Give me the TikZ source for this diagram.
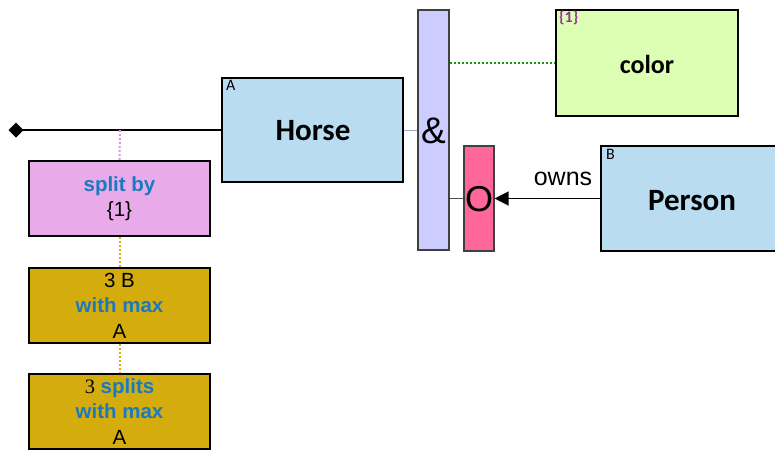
\documentclass[tikz,border=0pt]{standalone}
\usepackage{fontspec}
\setmainfont{Liberation Sans}
\newfontfamily\calib{Carlito}
\newfontfamily\serifr{Liberation Serif}
\usetikzlibrary{arrows.meta,shapes.geometric}
\definecolor{horseblue}{HTML}{B9DCF0}
\definecolor{barlav}{HTML}{CCCCFF}
\definecolor{colgreen}{HTML}{DDFFB3}
\definecolor{opink}{HTML}{FF6699}
\definecolor{splitpink}{HTML}{E8AAE8}
\definecolor{dotpink}{HTML}{E090E0}
\definecolor{gold}{HTML}{D4AC0D}
\definecolor{txtblue}{HTML}{1A7ABF}
\definecolor{lblpurple}{HTML}{993399}
\definecolor{dotgreen}{HTML}{119911}
\tikzset{
  entbox/.style={draw=black,line width=1.3pt,inner sep=0pt},
  barbox/.style={draw=black!75,line width=1.1pt,inner sep=0pt},
  bigtxt/.style={font=\calib\bfseries\fontsize{31}{34}\selectfont},
  smalltag/.style={anchor=north west,inner sep=0pt,font=\calib\fontsize{16}{17}\selectfont},
  stepbox/.style={draw=black,line width=1.3pt,inner sep=0pt,minimum width=181pt,minimum height=75pt,align=center,font=\fontsize{20.5}{25.5}\selectfont},
  dots/.style={line width=2pt,dash pattern=on 2pt off 2pt},
}
\begin{document}
\begin{tikzpicture}[x=1pt,y=-1pt]
\useasboundingbox (0,0) rectangle (775,450);
% boxes
\node[entbox,fill=horseblue,minimum width=181pt,minimum height=104pt] (horse) at (312.5,130) {};
\node[bigtxt] at (313,131) {Horse};
\node[smalltag] at (226,80) {A};
\node[barbox,fill=barlav,minimum width=31pt,minimum height=240pt] (amp) at (433.5,130) {};
\node[font=\fontsize{37}{37}\selectfont] at (433.5,131) {\&};
\node[entbox,fill=colgreen,minimum width=182pt,minimum height=106pt] (color) at (647,63) {};
\node[font=\calib\bfseries\fontsize{26}{28}\selectfont] at (647,64) {color};
\node[smalltag,font=\calib\bfseries\fontsize{16}{17}\selectfont,text=lblpurple] at (559,11) {\{1\}};
\node[barbox,fill=opink,minimum width=30pt,minimum height=105pt] (obar) at (479,198.5) {};
\node[font=\fontsize{36}{36}\selectfont] at (479,199.5) {O};
\node[entbox,fill=horseblue,minimum width=183pt,minimum height=105pt] (person) at (692.5,198.5) {};
\node[bigtxt] at (692,201) {Person};
\node[smalltag] at (606,149) {B};
% connectors
\coordinate (dia) at (16,130);
\coordinate (tap) at (120,130);
\draw[line width=1.3pt] (dia) -- (horse.west);
\fill (dia) +(-7.5,0) -- +(0,-7.5) -- +(7.5,0) -- +(0,7.5) -- cycle;
\draw[barlav!80!black,line width=1pt] (horse.east) -- (amp.west |- horse.east);
\draw[dotgreen,dots] (amp.east |- color.west) -- (color.west);
\draw[black!70,line width=1.2pt] (amp.east |- obar.west) -- (obar.west);
\draw[line width=1.3pt,-{Triangle[length=14pt,width=14pt]}] (person.west) -- (obar.east);
\node[font=\fontsize{25}{26}\selectfont,anchor=base,inner sep=0pt] (owns) at (563,185) {owns};
% left stack
\node[stepbox,fill=splitpink] (split) at (119.5,198.5) {{\bfseries\color{txtblue}split by}\\\{1\}};
\node[stepbox,fill=gold] (maxb) at (119.5,305.5) {3 B\\{\bfseries\color{txtblue}with max}\\A};
\node[stepbox,fill=gold] (maxs) at (119.5,411.5) {{\serifr 3} {\bfseries\color{txtblue}splits}\\{\bfseries\color{txtblue}with max}\\A};
\draw[dotpink,dots] (tap) -- (split.north);
\draw[gold,dots] (split.south) -- (maxb.north);
\draw[gold,dots] (maxb.south) -- (maxs.north);
\end{tikzpicture}
\end{document}
